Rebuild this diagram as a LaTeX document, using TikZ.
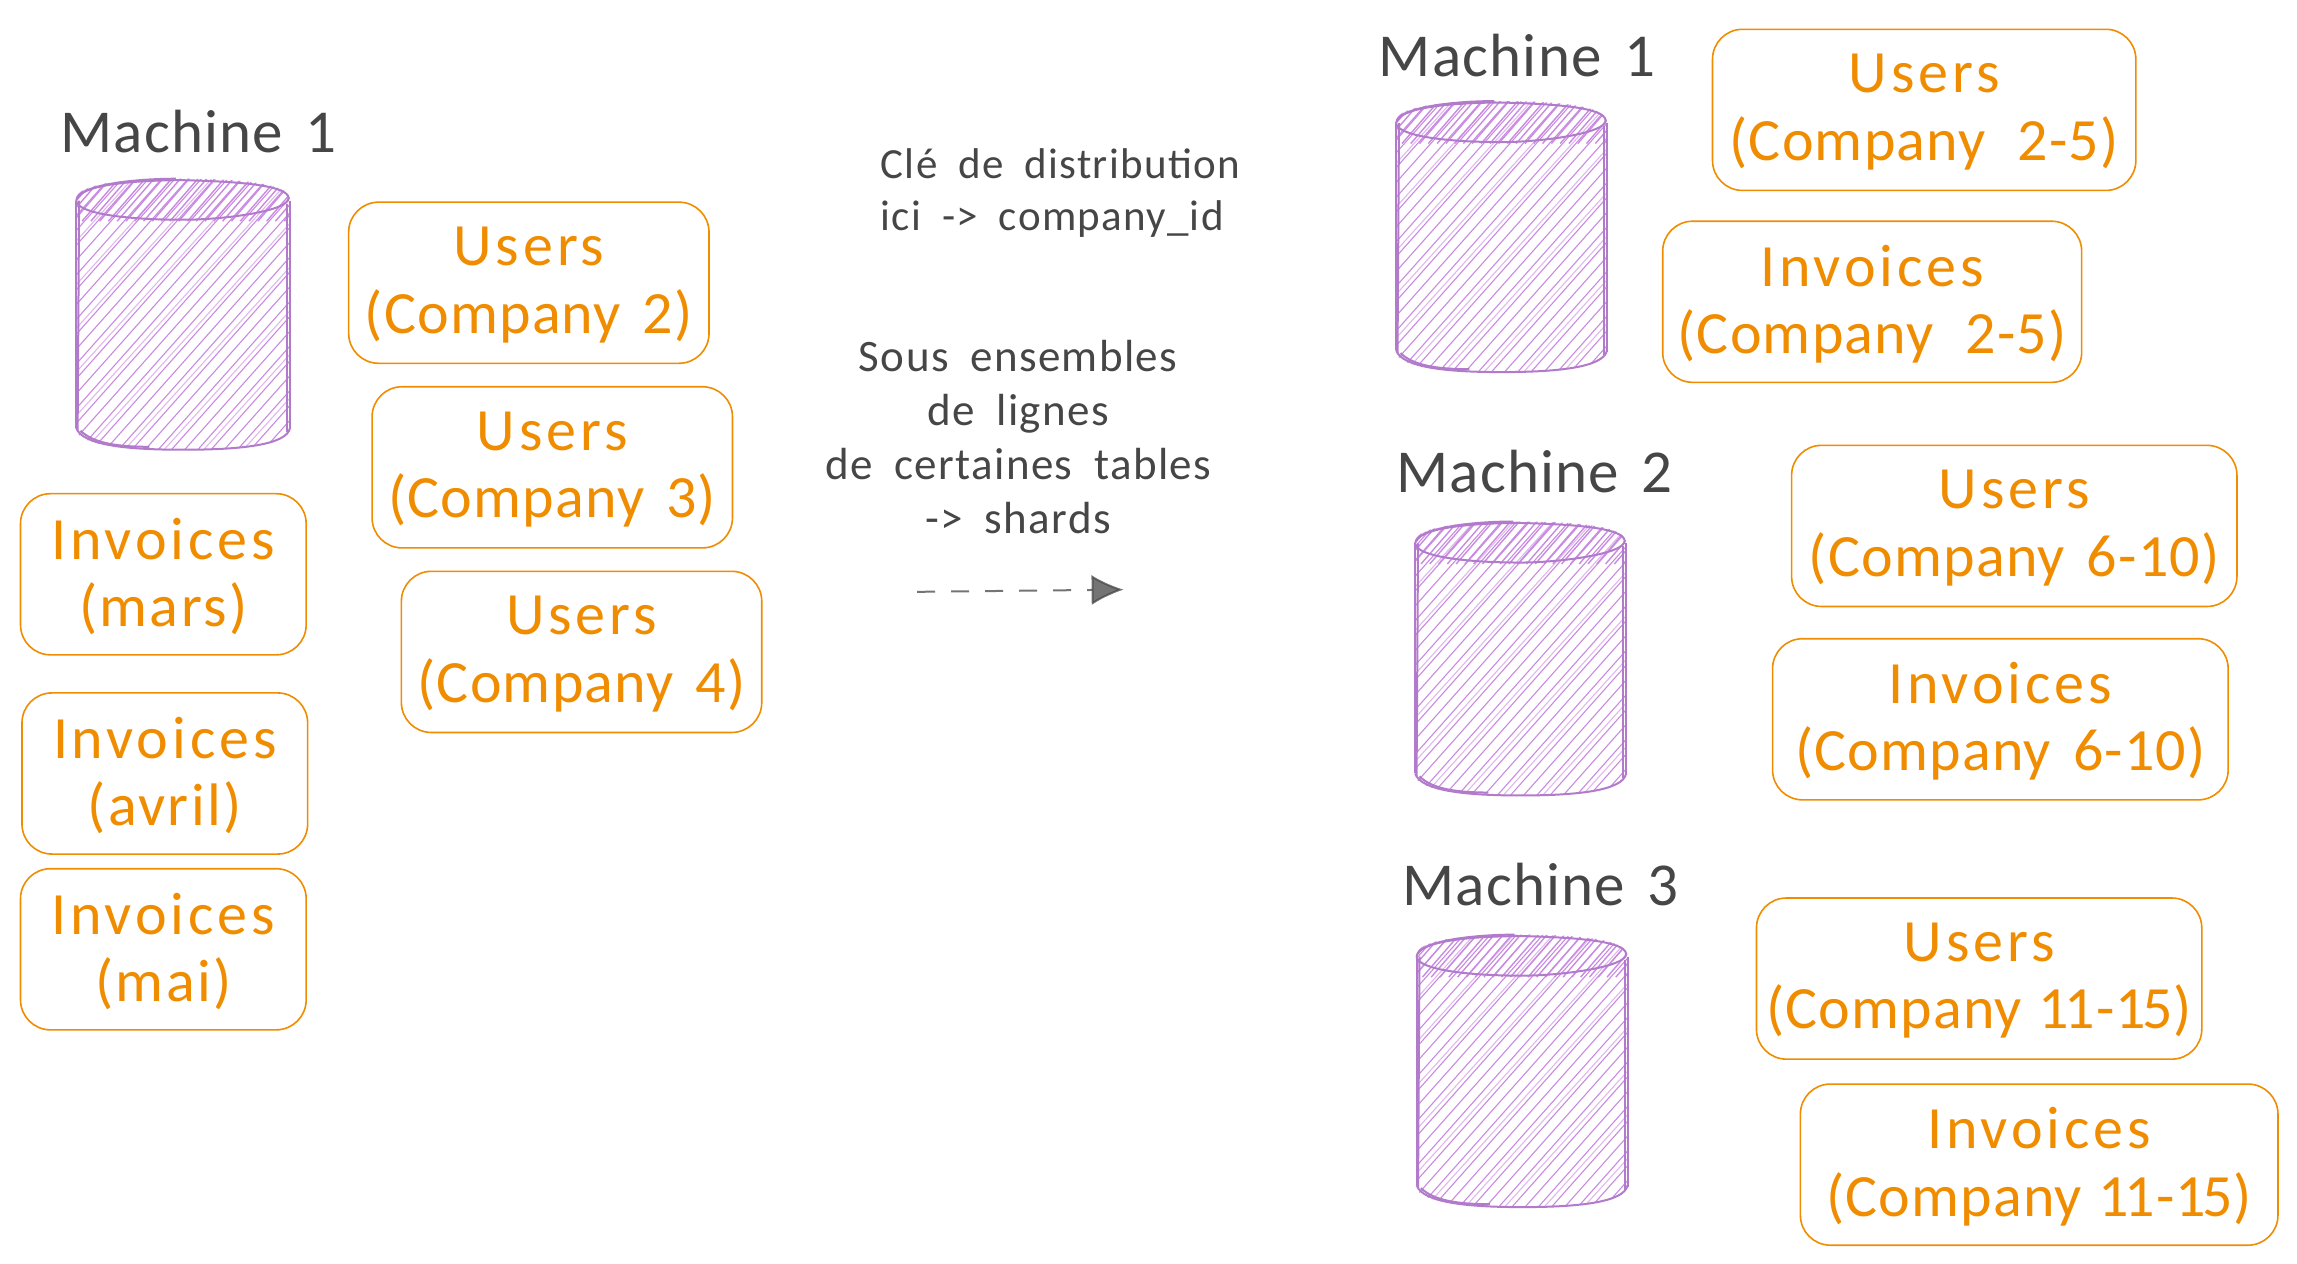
\documentclass[tikz,border=0pt]{standalone}
\usepackage{fontspec}
\usetikzlibrary{arrows.meta}
\setmainfont{Carlito}
\newfontfamily\boxfont[LetterSpace=2.0,WordSpace=1.3]{Carlito}
\newfontfamily\wordfont[LetterSpace=6.5]{Carlito}
\newfontfamily\parenfont[LetterSpace=4.0]{Carlito}
\newfontfamily\labelfont[LetterSpace=2.0,WordSpace=1.5]{Carlito}
\newfontfamily\notefont[LetterSpace=3.0,WordSpace=1.9]{Carlito}
\newcommand{\hd}[1]{{\wordfont #1}}
\newcommand{\pr}[1]{{\parenfont #1}}
\definecolor{sketchorange}{HTML}{F08C00}
\definecolor{sketchtext}{HTML}{464646}
\definecolor{sketchpurple}{HTML}{B27ACA}
\definecolor{sketchhatch}{HTML}{C98AE2}
\tikzset{
  x=0.7325pt,y=-0.7325pt,
  tablebox/.style={draw=sketchorange,line width=0.8pt,rounded corners=15pt,inner sep=0pt},
  tabletext/.style={text=sketchorange,align=center,inner sep=0pt,font=\boxfont\fontsize{30}{33.7}\selectfont},
  machinelabel/.style={text=sketchtext,anchor=west,inner sep=0pt,font=\labelfont\fontsize{30.5}{34}\selectfont},
  notetext/.style={text=sketchtext,inner sep=0pt},
  outline/.style={draw=sketchpurple,line width=1pt},
  hatchline/.style={draw=sketchhatch,line width=0.55pt},
}
\newcommand{\tablenode}[6]{%
  \pgfmathsetmacro{\bw}{(#3-#2)*0.7325}%
  \pgfmathsetmacro{\bh}{(#5-#4)*0.7325}%
  \node[tablebox,minimum width=\bw pt,minimum height=\bh pt] (#1) at ({(#2+#3)/2},{(#4+#5)/2}) {};
  \node[tabletext] (#1t) at ([yshift=-1.1pt]#1.center) {#6};}
% x1 x2 ytop ybottom; ytop is the top of the upper ellipse
\newcommand{\dbcyl}[4]{%
  \begin{scope}
    \clip (#1,#3+14) .. controls (#1,#3+3) and (#1+35,#3) .. ({(#1+#2)/2},#3)
      .. controls (#2-35,#3) and (#2,#3+3) .. (#2,#3+14) -- (#2,#4-14)
      .. controls (#2,#4-3) and (#2-35,#4) .. ({(#1+#2)/2},#4)
      .. controls (#1+35,#4) and (#1,#4-3) .. (#1,#4-14) -- cycle;
    \foreach \k in {-30,-21,...,400} {
      \draw[hatchline] (#1+\k-130,#4) -- ++(200,-225);
    }
    \foreach \k in {-26,1,...,400} {
      \draw[hatchline,opacity=0.6] (#1+\k-130,#4) -- ++(201,-222);
    }
    \foreach \k in {0,6,...,170} {
      \draw[hatchline,line width=0.7pt] (#1+\k-20,#3+29) -- ++(26,-30);
    }
  \end{scope}
  \draw[outline] (#1,#3+15) .. controls (#1+1,#3+4) and (#1+40,#3+1) .. ({(#1+#2)/2},#3+1)
     .. controls (#2-30,#3+2) and (#2-2,#3+5) .. (#2-1,#3+13)
     .. controls (#2,#3+22) and (#2-45,#3+28) .. ({(#1+#2)/2},#3+28)
     .. controls (#1+35,#3+28) and (#1+1,#3+24) .. (#1,#3+15);
  \draw[outline] (#1+1,#3+13) .. controls (#1+5,#3+4) and (#1+40,#3) .. ({(#1+#2)/2-5},#3);
  \draw[outline] (#1,#3+15) -- (#1,#4-15);
  \draw[outline] (#1+2,#3+15) -- (#1+1,#4-13);
  \draw[outline] (#2,#3+15) -- (#2,#4-14);
  \draw[outline] (#2-2,#3+17) -- (#2-2,#4-12);
  \draw[outline] (#1,#4-15) .. controls (#1+4,#4-3) and (#1+35,#4) .. ({(#1+#2)/2},#4)
     .. controls (#2-35,#4) and (#2-2,#4-3) .. (#2,#4-15);
  \draw[outline] (#1+3,#4-13) .. controls (#1+12,#4-4) and (#1+30,#4-2) .. (#1+50,#4-2);
}
\begin{document}
\begin{tikzpicture}
\useasboundingbox (0,0) rectangle (1568,862.8);
% left machine
\node[machinelabel] (m0) at (41,90) {Machine 1};
\dbcyl{52}{198}{122}{307}
\tablenode{u2}{238}{484}{138}{248}{\hd{Users}\\(Company 2)}
\tablenode{u3}{254}{500}{264}{374}{\hd{Users}\\(Company 3)}
\tablenode{u4}{274}{520}{390}{500}{\hd{Users}\\(Company 4)}
\tablenode{imars}{14}{209}{337}{447}{\hd{Invoices}\\\pr{(mars)}}
\tablenode{iavril}{15}{210}{473}{583}{\hd{Invoices}\\\pr{(avril)}}
\tablenode{imai}{14}{209}{593}{703}{\hd{Invoices}\\\pr{(mai)}}
% notes
\node[notetext,align=left,anchor=north west,font=\notefont\fontsize{21.5}{26}\selectfont] (cle) at (601,101) {Clé de distribution\\ici -> company\_id};
\node[notetext,align=center,font=\notefont\fontsize{22.5}{27}\selectfont] (sous) at (695,298) {Sous ensembles\\de lignes\\de certaines tables\\-> shards};
\coordinate (arrowstart) at (626,404);
\coordinate (arrowend) at (767,402.5);
\draw[sketchtext,opacity=0.75,line width=1pt,dash pattern=on 9pt off 8pt,-{Latex[length=16pt,width=15pt,open,fill=sketchtext]}] (arrowstart) -- (arrowend);
% right machines
\node[machinelabel] (m1) at (941,38) {Machine 1};
\dbcyl{953}{1097}{69}{254}
\tablenode{ua}{1169}{1458}{20}{130}{\hd{Users}\\(Company\kern5pt{} 2-5)}
\tablenode{ia}{1135}{1421}{151}{261}{\hd{Invoices}\\(Company\kern5pt{} 2-5)}
\node[machinelabel] (m2) at (953,322) {Machine 2};
\dbcyl{966}{1110}{356}{543}
\tablenode{ub}{1223}{1527}{304}{414}{\hd{Users}\\(Company 6-10)}
\tablenode{ib}{1210}{1521}{436}{546}{\hd{Invoices}\\(Company 6-10)}
\node[machinelabel] (m3) at (957,604) {Machine 3};
\dbcyl{967}{1111}{638}{824}
\tablenode{uc}{1199}{1503}{613}{723}{\hd{Users}\\(Company\kern-3pt{} 1\kern-2pt{}1-1\kern-2pt{}5)}
\tablenode{ic}{1229}{1555}{740}{850}{\hd{Invoices}\\(Company\kern-3pt{} 1\kern-2pt{}1-1\kern-2pt{}5)}
\end{tikzpicture}
\end{document}
